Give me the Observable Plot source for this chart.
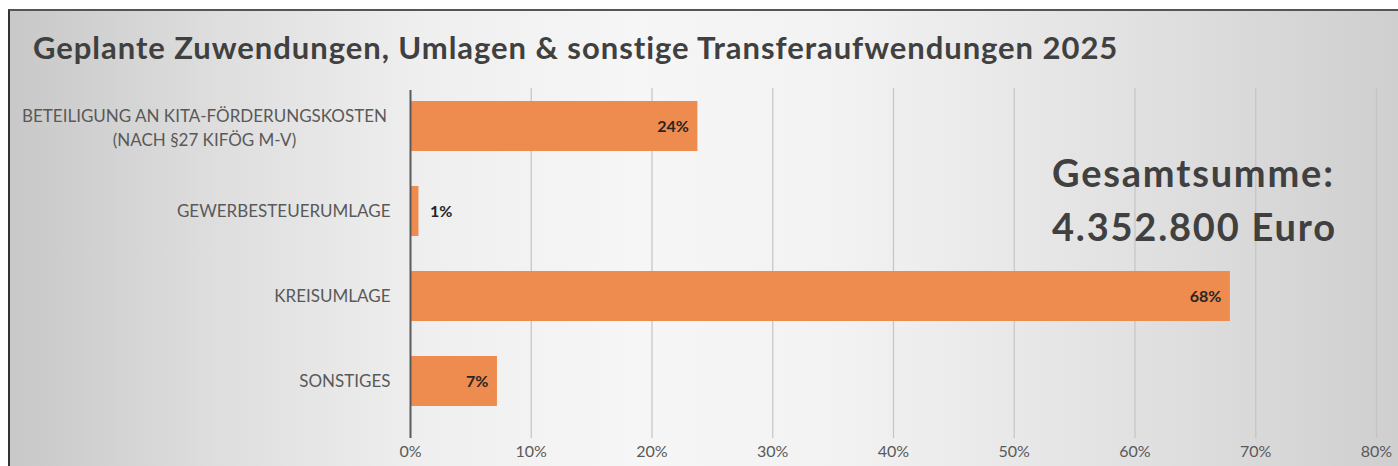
<!DOCTYPE html>
<html>
<head>
<meta charset="utf-8">
<script src="https://cdn.jsdelivr.net/npm/d3@7"></script>
<script src="https://cdn.jsdelivr.net/npm/@observablehq/plot@0.6"></script>
<style>
  html, body { margin: 0; padding: 0; background: #fff; }
  #wrap { position: relative; width: 1398px; height: 466px; overflow: hidden; background: #fff; }
  #panel { position: absolute; left: 8px; top: 9px; width: 1390px; height: 457px;
    border-top: 2px solid #555; border-left: 2px solid #333; box-sizing: border-box;
    background: linear-gradient(to right, #c8c8c8 0%, #dedede 15%, #efefef 30%, #f6f6f6 45%, #f2f2f2 60%, #e2e2e2 80%, #cfcfcf 100%); }
  #title { position: absolute; left: 33px; top: 28px; font-family: Lato, "Open Sans", sans-serif; font-weight: bold;
    font-size: 31px; color: #404040; white-space: nowrap; letter-spacing: 0.95px; }
  #total { position: absolute; left: 1052px; top: 145px; font-family: Lato, "Open Sans", sans-serif; font-weight: bold;
    font-size: 38px; line-height: 54px; color: #404040; white-space: nowrap; letter-spacing: 1.8px; }
  #chart { position: absolute; left: 0; top: 70px; }
</style>
</head>
<body>
<div id="wrap">
  <div id="panel"></div>
  <div id="title">Geplante Zuwendungen, Umlagen &amp; sonstige Transferaufwendungen 2025</div>
  <div id="chart"></div>
  <div id="total">Gesamtsumme:<br>4.352.800 Euro</div>
</div>
<script>
const categories = [
  "BETEILIGUNG AN KITA-FÖRDERUNGSKOSTEN\n(NACH §27 KIFÖG M-V)",
  "GEWERBESTEUERUMLAGE",
  "KREISUMLAGE",
  "SONSTIGES"
];
const shares = [0.238, 0.007, 0.679, 0.072];
const xTicks = [0, 0.1, 0.2, 0.3, 0.4, 0.5, 0.6, 0.7, 0.8];

const data = categories.map((c, i) => ({category: c, share: shares[i]}));
const pct = d3.format(".0%");
const font = "Lato, 'Open Sans', sans-serif";

const chart = Plot.plot({
  width: 1398,
  height: 396,
  marginLeft: 410,
  marginRight: 22,
  marginTop: 18,
  marginBottom: 28,
  style: {background: "transparent", fontFamily: font, color: "#595959"},
  x: {domain: [0, 0.8], ticks: xTicks, tickFormat: pct},
  y: {domain: categories, range: [12, 355], paddingInner: 0.41, paddingOuter: 0.205},
  marks: [
    Plot.ruleX(xTicks.slice(1), {stroke: "#c4c4c4", strokeWidth: 1.2}),
    Plot.barX(data, {y: "category", x: "share", fill: "#ee8b4f"}),
    Plot.ruleX([0], {stroke: "#5a5a5a", strokeWidth: 2, insetTop: 2}),
    Plot.text(data.filter(d => d.share >= 0.05), {
      y: "category", x: "share", text: d => pct(d.share),
      textAnchor: "end", dx: -9, fill: "#262626", fontWeight: "bold", fontSize: 16, fontFamily: font
    }),
    Plot.text(data.filter(d => d.share < 0.05), {
      y: "category", x: "share", text: d => pct(d.share),
      textAnchor: "start", dx: 11, fill: "#262626", fontWeight: "bold", fontSize: 16, fontFamily: font
    }),
    Plot.axisX({ticks: xTicks, tickFormat: pct, tickSize: 0, tickPadding: 7, fontSize: 16, fill: "#595959", label: null}),
    Plot.axisY(categories.slice(1), {tickSize: 0, tickPadding: 20, fontSize: 17, fill: "#595959", label: null}),
    Plot.axisY(categories.slice(0, 1), {tickSize: 0, tickPadding: 20, textAnchor: "middle", dx: -186, fontSize: 17, fill: "#595959", label: null, lineHeight: 1.4})
  ]
});
document.getElementById("chart").appendChild(chart);
</script>
</body>
</html>
